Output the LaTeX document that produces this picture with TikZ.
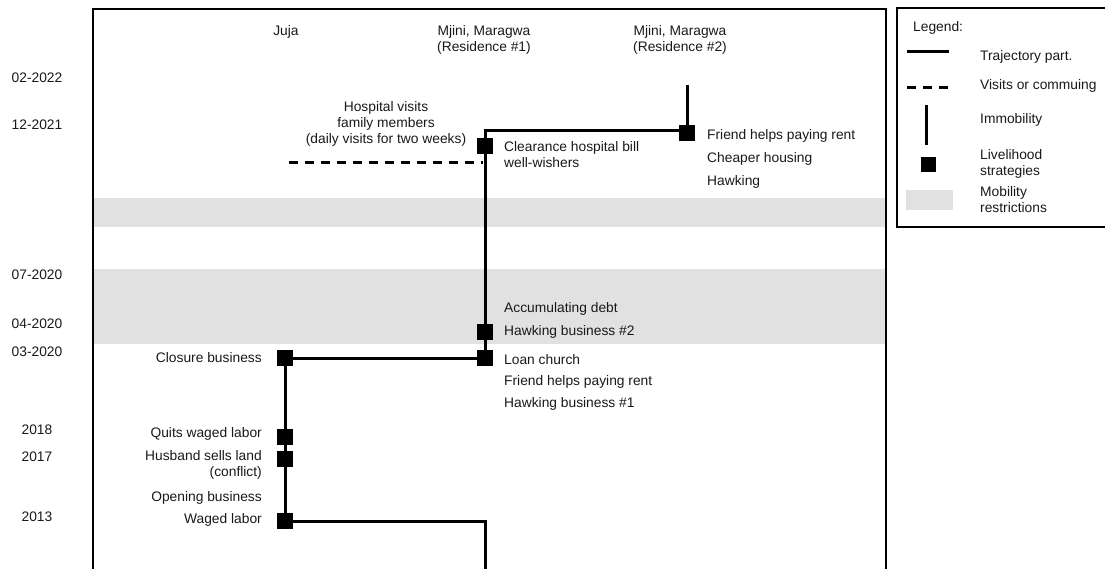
\documentclass[tikz,border=0pt]{standalone}
\usepackage{fontspec}
\setmainfont{Liberation Sans}
\definecolor{restrict}{RGB}{225,225,225}
\definecolor{ink}{RGB}{25,25,25}
\begin{document}
\begin{tikzpicture}[x=1pt,y=-1pt,
  lbl/.style={inner sep=0pt, font=\fontsize{13.8}{16}\selectfont, text=ink},
  lblL/.style={lbl, anchor=west},
  lblR/.style={lbl, anchor=east, align=right},
  datelbl/.style={lbl, anchor=center},
  place/.style={lbl, anchor=center, align=center},
  strategy/.style={draw=none, fill=black, minimum size=15pt, inner sep=0pt, rectangle},
  path part/.style={line width=3pt},
  visit/.style={line width=3pt, dash pattern=on 9pt off 7pt},
  band/.style={fill=restrict, draw=none}]
\useasboundingbox (0,0) rectangle (1105,569);

% mobility restriction periods
\fill[band] (94,198) rectangle (886,227);
\fill[band] (94,269) rectangle (886,344);

% frame of the timeline
\draw[line width=2pt] (93,575) -- (93,9) -- (886,9) -- (886,575);

% date axis
\node[datelbl] (d1) at (37,78) {02-2022};
\node[datelbl] (d2) at (37,125) {12-2021};
\node[datelbl] (d3) at (37,275) {07-2020};
\node[datelbl] (d4) at (37,324) {04-2020};
\node[datelbl] (d5) at (37,352) {03-2020};
\node[datelbl] (d6) at (37,430) {2018};
\node[datelbl] (d7) at (37,457) {2017};
\node[datelbl] (d8) at (37,517) {2013};

% places
\node[place] (juja) at (286,32) {Juja};
\node[place] (res1) at (484,40) {Mjini, Maragwa\\(Residence \#1)};
\node[place] (res2) at (680,40) {Mjini, Maragwa\\(Residence \#2)};

% trajectory corners
\coordinate (start) at (485,575);
\coordinate (k1) at (485,521);
\coordinate (k2) at (485,131);
\coordinate (k3) at (687,131);
\coordinate (stay) at (687,85);
\coordinate (v1) at (289,163);
\coordinate (v2) at (483,163);

% livelihood strategies
\node[strategy] (s1) at (285,521) {};
\node[strategy] (s2) at (285,459) {};
\node[strategy] (s3) at (285,437) {};
\node[strategy] (s4) at (285,358) {};
\node[strategy] (s5) at (485,358) {};
\node[strategy] (s6) at (485,332) {};
\node[strategy] (s7) at (485,146) {};
\node[strategy] (s8) at (687,133) {};

% trajectory
\draw[path part] (start) -- (k1) -- (s1.center);
\draw[path part] (s1.center) -- (s4.center);
\draw[path part] (s4.center) -- (s5.center);
\draw[path part] (s5.center) -- (k2) -- (k3) -- (stay);
\draw[visit] (v1) -- (v2);
% squares redrawn on top of the lines
\foreach \s in {s1,s2,s3,s4,s5,s6,s7,s8}
  \fill (\s.south west) rectangle (\s.north east);

% strategy labels
\node[lblR] (t1) at (262,520) {Waged labor};
\node[lblR] (t2) at (262,498) {Opening business};
\node[lblR] (t3) at (262,465) {Husband sells land\\(conflict)};
\node[lblR] (t4) at (262,434) {Quits waged labor};
\node[lblR] (t5) at (262,358) {Closure business};

\node[lblL] (u1) at (504,360) {Loan church};
\node[lblL] (u2) at (504,382) {Friend helps paying rent};
\node[lblL] (u3) at (504,404) {Hawking business \#1};
\node[lblL] (u4) at (504,309) {Accumulating debt};
\node[lblL] (u5) at (504,332) {Hawking business \#2};
\node[lblL, align=left] (u6) at (504,155) {Clearance hospital bill\\well-wishers};
\node[place] (u7) at (386,124) {Hospital visits\\family members\\(daily visits for two weeks)};

\node[lblL] (w1) at (707,136) {Friend helps paying rent};
\node[lblL] (w2) at (707,159) {Cheaper housing};
\node[lblL] (w3) at (707,182) {Hawking};

% legend
\draw[line width=1.2pt] (1110,8) -- (897,8) -- (897,227) -- (1110,227);
\node[lblL] (lg) at (913,28) {Legend:};
\coordinate (la1) at (907,52);
\coordinate (la2) at (949,52);
\draw[path part] (la1) -- (la2);
\node[lblL] (lt1) at (980,57) {Trajectory part.};
\coordinate (lb1) at (907,88);
\coordinate (lb2) at (955,88);
\draw[visit] (lb1) -- (lb2);
\node[lblL] (lt2) at (980,86) {Visits or commuing};
\coordinate (lc1) at (926,105);
\coordinate (lc2) at (926,145);
\draw[path part] (lc1) -- (lc2);
\node[lblL] (lt3) at (980,120) {Immobility};
\node[strategy] (ld) at (928,165) {};
\node[lblL, align=left] (lt4) at (980,164) {Livelihood\\strategies};
\fill[band] (906,190) rectangle (953,210);
\node[lblL, align=left] (lt5) at (980,200) {Mobility\\restrictions};
\end{tikzpicture}
\end{document}
